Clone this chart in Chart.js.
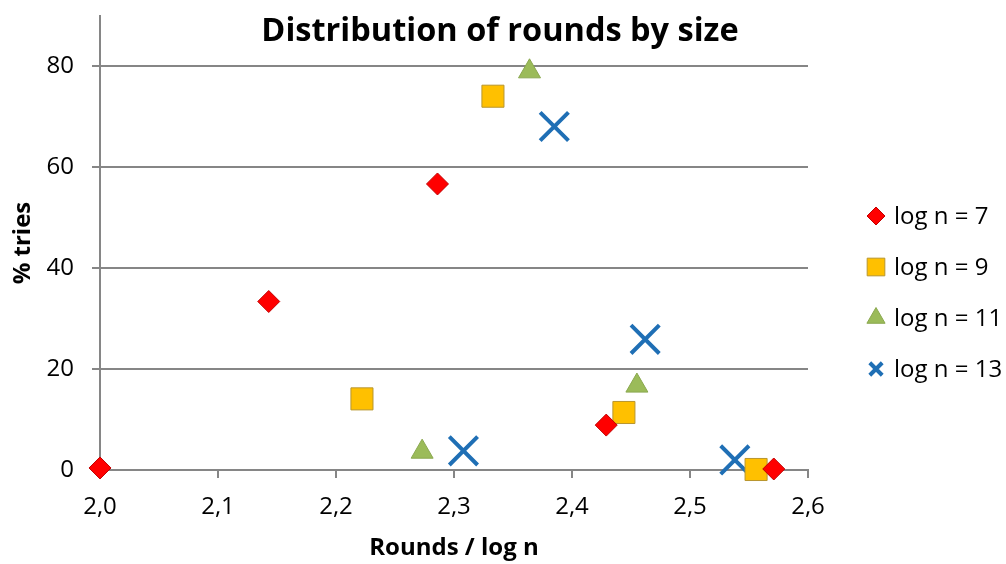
<!DOCTYPE html>
<html>
<head>
<meta charset="utf-8">
<script src="https://cdn.jsdelivr.net/npm/chart.js@4.4.0/dist/chart.umd.min.js"></script>
<style>
  html, body { margin: 0; padding: 0; background: #ffffff; }
  #wrap { width: 1006px; height: 564px; }
</style>
</head>
<body>
<div id="wrap"><canvas id="c" width="1006" height="564"></canvas></div>
<script>
// Rounds per log n (x) and share of tries in percent (y), one pair of arrays per size
const seriesNames = ['log n = 7', 'log n = 9', 'log n = 11', 'log n = 13'];

const rounds7 = [2.000, 2.143, 2.286, 2.429, 2.571];
const tries7  = [0.4, 33.4, 56.7, 8.9, 0.2];

const rounds9 = [2.222, 2.333, 2.444, 2.556];
const tries9  = [14.1, 74.1, 11.4, 0.1];

const rounds11 = [2.273, 2.364, 2.455];
const tries11  = [3.6, 79.0, 16.7];

const rounds13 = [2.308, 2.385, 2.462, 2.538];
const tries13  = [3.8, 68.1, 25.9, 2.0];

const xTickValues = [2.0, 2.1, 2.2, 2.3, 2.4, 2.5, 2.6];
const yTickValues = [0, 20, 40, 60, 80];

const FONT = '"Open Sans", Lato, "DejaVu Sans", sans-serif';
const GRID = '#868686';

function points(xs, ys) {
  return xs.map((x, i) => ({ x: x, y: ys[i] }));
}

const styles = [
  { pointStyle: 'rectRot',  radius: 11,   fill: '#ff0000', border: '#c00000', bw: 1, legendRadius: 9 },
  { pointStyle: 'rect',     radius: 15.6, fill: '#ffc000', border: '#b8962e', bw: 1, legendRadius: 12.5 },
  { pointStyle: 'triangle', radius: 12.7, fill: '#9bbb59', border: '#8aa84f', bw: 1, legendRadius: 10.5 },
  { pointStyle: 'crossRot', radius: 20,   fill: '#1f6fb5', border: '#1f6fb5', bw: 4, legendRadius: 16 }
];

const seriesData = [
  points(rounds7, tries7),
  points(rounds9, tries9),
  points(rounds11, tries11),
  points(rounds13, tries13)
];

const datasets = seriesData.map((d, i) => ({
  label: seriesNames[i],
  data: d,
  showLine: false,
  clip: false,
  pointStyle: styles[i].pointStyle,
  pointRadius: styles[i].radius,
  pointHoverRadius: styles[i].radius,
  backgroundColor: styles[i].fill,
  borderColor: styles[i].border,
  pointBorderWidth: styles[i].bw,
  pointBackgroundColor: styles[i].fill,
  pointBorderColor: styles[i].border
}));

// Title and legend drawn by hand so they sit where the layout needs them
const decorations = {
  id: 'decorations',
  afterDraw(chart) {
    const ctx = chart.ctx;
    ctx.save();
    ctx.fillStyle = '#000000';
    ctx.font = 'bold 32.5px ' + FONT;
    ctx.textAlign = 'center';
    ctx.textBaseline = 'alphabetic';
    ctx.fillText('Distribution of rounds by size', 500, 41);

    const top = 216, step = 51, markerX = 876, textX = 894;
    ctx.font = '24px ' + FONT;
    ctx.textAlign = 'left';
    seriesNames.forEach((name, i) => {
      const y = top + i * step;
      const s = styles[i];
      ctx.save();
      ctx.fillStyle = s.fill;
      ctx.strokeStyle = s.border;
      ctx.lineWidth = s.bw;
      Chart.helpers.drawPoint(ctx, {
        pointStyle: s.pointStyle, rotation: 0,
        radius: s.legendRadius * (s.pointStyle === 'crossRot' ? 0.55 : 1),
        borderWidth: s.bw
      }, markerX, y);
      ctx.restore();
      ctx.fillStyle = '#000000';
      ctx.textBaseline = 'alphabetic';
      ctx.fillText(name, textX, y + 8);
    });
    ctx.restore();
  }
};

new Chart(document.getElementById('c'), {
  type: 'scatter',
  data: { datasets: datasets },
  options: {
    responsive: false,
    animation: false,
    layout: { autoPadding: false, padding: { top: 16, right: 198, left: 0, bottom: 0 } },
    plugins: {
      legend: { display: false },
      title: { display: false },
      tooltip: { enabled: false }
    },
    scales: {
      x: {
        type: 'linear',
        min: 2.0,
        max: 2.6,
        afterFit: s => { s.height = 94; s.paddingLeft = 0; s.paddingRight = 0; },
        afterBuildTicks: s => { s.ticks = xTickValues.map(v => ({ value: v })); },
        ticks: {
          color: '#000000',
          font: { family: FONT, size: 24 },
          padding: 15,
          callback: v => Number(v).toFixed(1).replace('.', ',')
        },
        grid: { drawOnChartArea: false, drawTicks: true, tickLength: 8, color: GRID, lineWidth: 2 },
        border: { display: true, color: GRID, width: 2 },
        title: {
          display: true,
          text: 'Rounds / log n',
          color: '#000000',
          font: { family: FONT, size: 24, weight: 'bold' },
          padding: { top: 0, bottom: 1 }
        }
      },
      y: {
        type: 'linear',
        min: 0,
        max: 90,
        afterFit: s => { s.width = 100; s.paddingTop = 0; s.paddingBottom = 0; },
        afterBuildTicks: s => { s.ticks = yTickValues.map(v => ({ value: v })); },
        ticks: {
          color: '#000000',
          font: { family: FONT, size: 24 },
          padding: 18
        },
        grid: { drawOnChartArea: true, drawTicks: true, tickLength: 8, color: GRID, lineWidth: 2 },
        border: { display: true, color: GRID, width: 2 },
        title: {
          display: true,
          text: '% tries',
          color: '#000000',
          font: { family: FONT, size: 24, weight: 'bold' },
          padding: { top: 9, bottom: 4 }
        }
      }
    }
  },
  plugins: [decorations]
});
</script>
</body>
</html>
